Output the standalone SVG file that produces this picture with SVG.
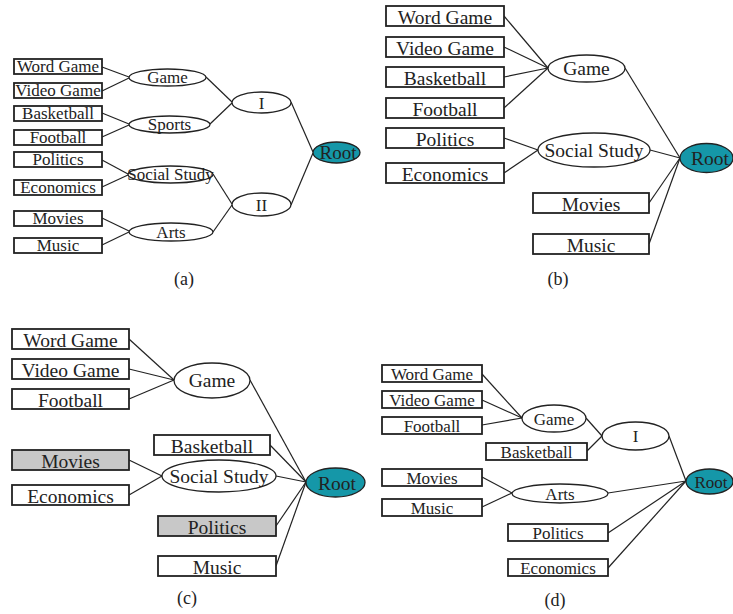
<svg xmlns="http://www.w3.org/2000/svg" width="733" height="614" viewBox="0 0 733 614">
<style>
text{font-family:"Liberation Serif","Times New Roman",serif;fill:#222;text-anchor:middle}
.bx{fill:#fff;stroke:#222;stroke-width:1.8}
.gr{fill:#c8c8c8;stroke:#222;stroke-width:1.8}
.el{fill:#fff;stroke:#222;stroke-width:1.3}
.rt{fill:#1597a8;stroke:#222;stroke-width:1.3}
.cn line{stroke:#222;stroke-width:1.2}
.a{font-size:17px}.b{font-size:19.5px}.c{font-size:19.5px}.d{font-size:17px}
.cap{font-size:18px}
</style>
<rect width="733" height="614" fill="#fff"/>
<!-- connectors -->
<g id="connectors" class="cn">
<line x1="102" y1="67" x2="129" y2="77"/><line x1="102" y1="91" x2="129" y2="78"/>
<line x1="102" y1="113" x2="129" y2="124"/><line x1="102" y1="137" x2="129" y2="125"/>
<line x1="102" y1="160" x2="128" y2="174"/><line x1="102" y1="187" x2="128" y2="175"/>
<line x1="102" y1="218" x2="129" y2="231"/><line x1="102" y1="245" x2="129" y2="232"/>
<line x1="206" y1="77" x2="232" y2="102"/><line x1="210" y1="124" x2="232" y2="103"/>
<line x1="213" y1="174" x2="232" y2="204"/><line x1="213" y1="232" x2="232" y2="205"/>
<line x1="291" y1="102" x2="313" y2="152"/><line x1="291" y1="205" x2="313" y2="153"/>

<line x1="504" y1="16" x2="548" y2="68"/><line x1="504" y1="47" x2="548" y2="68"/>
<line x1="504" y1="77" x2="548" y2="68"/><line x1="504" y1="108" x2="548" y2="68"/>
<line x1="504" y1="138" x2="538" y2="150"/><line x1="504" y1="173" x2="538" y2="150"/>
<line x1="625" y1="68" x2="680" y2="158"/><line x1="650" y1="150" x2="680" y2="158"/>
<line x1="649" y1="203" x2="680" y2="158"/><line x1="649" y1="244" x2="680" y2="158"/>

<line x1="129" y1="339" x2="174" y2="380"/><line x1="129" y1="369" x2="174" y2="380"/>
<line x1="129" y1="399" x2="174" y2="380"/><line x1="129" y1="460" x2="162" y2="476"/>
<line x1="129" y1="495" x2="162" y2="476"/>
<line x1="250" y1="380" x2="306" y2="482"/><line x1="270" y1="445" x2="306" y2="482"/>
<line x1="276" y1="476" x2="306" y2="482"/><line x1="276" y1="526" x2="306" y2="482"/>
<line x1="276" y1="566" x2="306" y2="482"/>

<line x1="482" y1="374" x2="522" y2="418"/><line x1="482" y1="400" x2="522" y2="418"/>
<line x1="482" y1="425" x2="522" y2="418"/>
<line x1="586" y1="418" x2="602" y2="436"/><line x1="587" y1="451" x2="602" y2="436"/>
<line x1="669" y1="436" x2="686" y2="481"/>
<line x1="482" y1="477" x2="512" y2="493"/><line x1="482" y1="507" x2="512" y2="493"/>
<line x1="608" y1="493" x2="686" y2="481"/><line x1="608" y1="533" x2="686" y2="481"/>
<line x1="608" y1="568" x2="686" y2="481"/>
</g>

<!-- panel a -->
<g id="a-word"><rect class="bx" x="14" y="59" width="88" height="15"/><text class="a" x="58" y="72">Word Game</text></g>
<g id="a-video"><rect class="bx" x="14" y="83" width="88" height="15"/><text class="a" x="58" y="96">Video Game</text></g>
<g id="a-basket"><rect class="bx" x="14" y="106" width="88" height="15"/><text class="a" x="58" y="119">Basketball</text></g>
<g id="a-foot"><rect class="bx" x="14" y="130" width="88" height="15"/><text class="a" x="58" y="143">Football</text></g>
<g id="a-pol"><rect class="bx" x="14" y="152" width="88" height="15"/><text class="a" x="58" y="165">Politics</text></g>
<g id="a-eco"><rect class="bx" x="14" y="180" width="88" height="15"/><text class="a" x="58" y="193">Economics</text></g>
<g id="a-mov"><rect class="bx" x="14" y="211" width="88" height="15"/><text class="a" x="58" y="224">Movies</text></g>
<g id="a-mus"><rect class="bx" x="14" y="238" width="88" height="15"/><text class="a" x="58" y="251">Music</text></g>
<g id="a-game"><ellipse class="el" cx="167.5" cy="77.5" rx="38.5" ry="8.5"/><text class="a" x="167.5" y="83">Game</text></g>
<g id="a-sports"><ellipse class="el" cx="169.5" cy="124.5" rx="40.5" ry="8.5"/><text class="a" x="169.5" y="130">Sports</text></g>
<g id="a-social"><ellipse class="el" cx="170.5" cy="174.5" rx="42.5" ry="8.5"/><text class="a" x="170.5" y="180">Social Study</text></g>
<g id="a-arts"><ellipse class="el" cx="171" cy="232" rx="42" ry="9"/><text class="a" x="171" y="238">Arts</text></g>
<g id="a-I"><ellipse class="el" cx="261.5" cy="102.5" rx="29.5" ry="10.5"/><text class="a" x="261.5" y="108.5">I</text></g>
<g id="a-II"><ellipse class="el" cx="261.5" cy="204.5" rx="29.5" ry="11.5"/><text class="a" x="261.5" y="210.5">II</text></g>
<g id="a-root"><ellipse class="rt" cx="336.5" cy="152.5" rx="23.5" ry="10.5"/><text class="a" x="338" y="159" style="font-size:19px">Root</text></g>
<text class="cap" x="184" y="285">(a)</text>

<!-- panel b -->
<g id="b-word"><rect class="bx" x="386" y="6" width="118" height="20"/><text class="b" x="445" y="24">Word Game</text></g>
<g id="b-video"><rect class="bx" x="386" y="37" width="118" height="20"/><text class="b" x="445" y="55">Video Game</text></g>
<g id="b-basket"><rect class="bx" x="386" y="67" width="118" height="20"/><text class="b" x="445" y="85">Basketball</text></g>
<g id="b-foot"><rect class="bx" x="386" y="98" width="118" height="20"/><text class="b" x="445" y="116">Football</text></g>
<g id="b-pol"><rect class="bx" x="386" y="128" width="118" height="20"/><text class="b" x="445" y="146">Politics</text></g>
<g id="b-eco"><rect class="bx" x="386" y="163" width="118" height="20"/><text class="b" x="445" y="181">Economics</text></g>
<g id="b-mov"><rect class="bx" x="533" y="193" width="116" height="20"/><text class="b" x="591" y="211">Movies</text></g>
<g id="b-mus"><rect class="bx" x="533" y="234" width="116" height="20"/><text class="b" x="591" y="252">Music</text></g>
<g id="b-game"><ellipse class="el" cx="586.5" cy="68.5" rx="38.5" ry="13.5"/><text class="b" x="586.5" y="75">Game</text></g>
<g id="b-social"><ellipse class="el" cx="594" cy="150" rx="56" ry="17"/><text class="b" x="594" y="157">Social Study</text></g>
<g id="b-root"><ellipse class="rt" cx="706.5" cy="158" rx="26.5" ry="14.5"/><text class="b" x="710" y="165">Root</text></g>
<text class="cap" x="558" y="285">(b)</text>

<!-- panel c -->
<g id="c-word"><rect class="bx" x="12" y="329" width="117" height="20"/><text class="c" x="70.5" y="347">Word Game</text></g>
<g id="c-video"><rect class="bx" x="12" y="359" width="117" height="20"/><text class="c" x="70.5" y="377">Video Game</text></g>
<g id="c-foot"><rect class="bx" x="12" y="389" width="117" height="20"/><text class="c" x="70.5" y="407">Football</text></g>
<g id="c-mov"><rect class="gr" x="12" y="450" width="117" height="20"/><text class="c" x="70.5" y="468">Movies</text></g>
<g id="c-eco"><rect class="bx" x="12" y="485" width="117" height="20"/><text class="c" x="70.5" y="503">Economics</text></g>
<g id="c-basket"><rect class="bx" x="154" y="435" width="116" height="20"/><text class="c" x="212" y="453">Basketball</text></g>
<g id="c-pol"><rect class="gr" x="158" y="516" width="118" height="20"/><text class="c" x="217" y="534">Politics</text></g>
<g id="c-mus"><rect class="bx" x="158" y="556" width="118" height="20"/><text class="c" x="217" y="574">Music</text></g>
<g id="c-game"><ellipse class="el" cx="212" cy="380.5" rx="38" ry="17.5"/><text class="c" x="212" y="387">Game</text></g>
<g id="c-social"><ellipse class="el" cx="219" cy="476" rx="57" ry="16"/><text class="c" x="219" y="483">Social Study</text></g>
<g id="c-root"><ellipse class="rt" cx="335.5" cy="482.5" rx="29.5" ry="14.5"/><text class="c" x="337" y="490">Root</text></g>
<text class="cap" x="187" y="604">(c)</text>

<!-- panel d -->
<g id="d-word"><rect class="bx" x="382" y="365" width="100" height="17"/><text class="d" x="432" y="380">Word Game</text></g>
<g id="d-video"><rect class="bx" x="382" y="391" width="100" height="17"/><text class="d" x="432" y="406">Video Game</text></g>
<g id="d-foot"><rect class="bx" x="382" y="417" width="100" height="17"/><text class="d" x="432" y="432">Football</text></g>
<g id="d-basket"><rect class="bx" x="486" y="443" width="101" height="17"/><text class="d" x="536.5" y="458">Basketball</text></g>
<g id="d-mov"><rect class="bx" x="382" y="469" width="100" height="17"/><text class="d" x="432" y="484">Movies</text></g>
<g id="d-mus"><rect class="bx" x="382" y="499" width="100" height="17"/><text class="d" x="432" y="514">Music</text></g>
<g id="d-pol"><rect class="bx" x="508" y="524" width="100" height="17"/><text class="d" x="558" y="539">Politics</text></g>
<g id="d-eco"><rect class="bx" x="508" y="559" width="100" height="17"/><text class="d" x="558" y="574">Economics</text></g>
<g id="d-game"><ellipse class="el" cx="554" cy="418.5" rx="32" ry="13.5"/><text class="d" x="554" y="424.5">Game</text></g>
<g id="d-I"><ellipse class="el" cx="635.5" cy="436" rx="33.5" ry="14"/><text class="d" x="635.5" y="442">I</text></g>
<g id="d-arts"><ellipse class="el" cx="560" cy="493.5" rx="48" ry="9.5"/><text class="d" x="560" y="499.5">Arts</text></g>
<g id="d-root"><ellipse class="rt" cx="709.5" cy="481.5" rx="23.5" ry="12.5"/><text class="d" x="711" y="487.5">Root</text></g>
<text class="cap" x="555" y="606">(d)</text>
</svg>
